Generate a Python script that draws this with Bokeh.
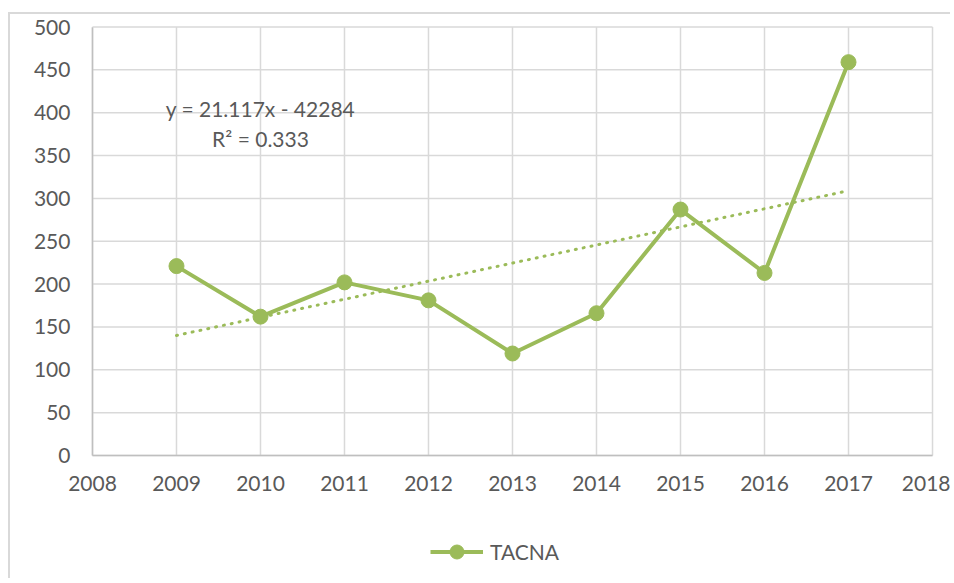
from bokeh.plotting import figure
from bokeh.models import (Range1d, FixedTicker, Label, Legend, LegendItem,
                          InlineStyleSheet)
from bokeh.embed import file_html
from bokeh.resources import INLINE

# ---- data ----
years = [2009, 2010, 2011, 2012, 2013, 2014, 2015, 2016, 2017]
tacna = [221, 162, 202, 181, 119, 166, 287, 213, 459]
x_ticks = list(range(2008, 2019))
y_ticks = list(range(0, 501, 50))
trend_slope = 21.117
trend_intercept = -42284
trend_label = "y = 21.117x - 42284"
r2_label = "R² = 0.333"
series_name = "TACNA"

GREEN = "#9BBB59"
TXT = "#595959"
GRID = "#d9d9d9"
AXIS = "#bfbfbf"
FONT = "Lato"
FS = "21px"

x_lo, x_hi = x_ticks[0], x_ticks[-1]
y_lo, y_hi = y_ticks[0], y_ticks[-1]
trend_x = [years[0], years[-1]]
trend_y = [trend_slope * x + trend_intercept for x in trend_x]

# The frame fills the whole canvas; axes are pinned at 2008 / 0 so that the
# tick labels and the legend can be drawn inside it.
p = figure(width=942, height=566, output_backend="svg", toolbar_location=None,
           x_range=Range1d(2007.024, 2018.238), y_range=Range1d(-145.9, 514.6),
           min_border_left=0, min_border_right=0, min_border_top=0,
           min_border_bottom=0)
p.stylesheets = [InlineStyleSheet(css=":host { border-left: 2px solid #d9d9d9; border-top: 2px solid #d9d9d9; margin-top: 12px; margin-left: 8px; }")]
p.outline_line_color = None
p.background_fill_color = "white"
p.border_fill_color = "white"

for ax in (p.xaxis[0], p.yaxis[0]):
    ax.major_tick_line_color = None
    ax.minor_tick_line_color = None
    ax.axis_line_color = AXIS
    ax.axis_line_width = 1.5
    ax.major_label_text_font = FONT
    ax.major_label_text_font_size = FS
    ax.major_label_text_color = TXT
p.xaxis.ticker = FixedTicker(ticks=x_ticks)
p.yaxis.ticker = FixedTicker(ticks=y_ticks)
p.xaxis.fixed_location = y_lo
p.yaxis.fixed_location = x_lo
p.xaxis.bounds = (x_lo, x_hi)
p.yaxis.bounds = (y_lo, y_hi)
p.xaxis.major_label_standoff = 15
p.yaxis.major_label_standoff = 16

p.xgrid.visible = False
p.ygrid.visible = False
# gridlines only over the plotted area
p.segment(x0=x_ticks, y0=[y_lo] * len(x_ticks), x1=x_ticks, y1=[y_hi] * len(x_ticks),
          line_color=GRID, line_width=1.5, level="underlay")
p.segment(x0=[x_lo] * len(y_ticks), y0=y_ticks, x1=[x_hi] * len(y_ticks), y1=y_ticks,
          line_color=GRID, line_width=1.5, level="underlay")

# trendline
p.line(trend_x, trend_y, line_color=GREEN, line_width=3, line_dash="1 7",
       line_cap="round")

# series
ln = p.line(years, tacna, line_color=GREEN, line_width=4)
mk = p.scatter(years, tacna, size=15, fill_color=GREEN, line_color=GREEN)

p.add_layout(Label(x=2010, y=405, text=trend_label, text_align="center",
                   text_baseline="middle", text_font=FONT,
                   text_font_size=FS, text_color=TXT))
p.add_layout(Label(x=2010, y=370, text=r2_label, text_align="center",
                   text_baseline="middle", text_font=FONT,
                   text_font_size=FS, text_color=TXT))

legend = Legend(items=[LegendItem(label=series_name, renderers=[ln, mk])],
                location=(420, 11), orientation="horizontal",
                glyph_width=53, glyph_height=35, label_standoff=7,
                padding=0, margin=0, border_line_color=None,
                background_fill_alpha=0,
                label_text_font=FONT, label_text_font_size=FS,
                label_text_color=TXT)
p.add_layout(legend, "center")

open("out.html", "w").write(file_html(p, INLINE))
